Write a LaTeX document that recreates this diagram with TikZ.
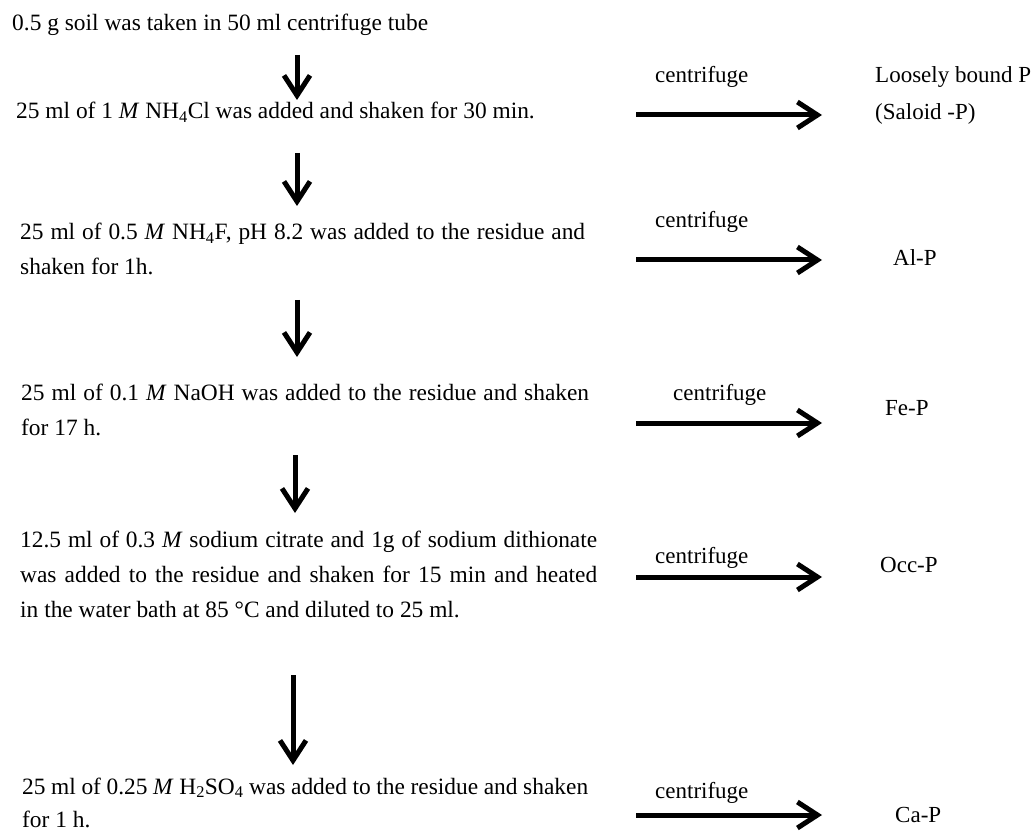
\documentclass[tikz,border=0pt]{standalone}
\usepackage{fontspec}
\setmainfont{Liberation Serif}
\usetikzlibrary{arrows.meta}

\tikzset{
  stage/.style={anchor=base west, inner sep=0pt, text width=620pt, align=flush left,
    font=\fontsize{23.4}{35}\selectfont},
  block/.style={stage, align=justify},
  spin/.style={anchor=base west, inner sep=0pt, font=\fontsize{23}{35}\selectfont},
  fraction/.style={anchor=base west, inner sep=0pt, text width=170pt, align=flush left,
    font=\fontsize{23}{37}\selectfont},
  flowdown/.style={line width=5pt, -{Straight Barb[length=20pt,width=26pt]}},
  flowout/.style={line width=5pt, -{Straight Barb[length=20pt,width=26pt]}}
}

\begin{document}
\begin{tikzpicture}[x=1pt,y=-1pt]
  \useasboundingbox (0,0) rectangle (1036,834);

  % extraction steps
  \node (soil) [stage] at (12,30.5) {0.5 g soil was taken in 50 ml centrifuge tube};
  \node (chloride) [stage] at (16,119) {25 ml of 1 \textit{M} NH\textsubscript{4}Cl was added and shaken for 30 min.};
  \node (fluoride) [block, text width=565pt] at (20,240) {25 ml of 0.5 \textit{M} NH\textsubscript{4}F, pH 8.2 was added to the residue and\linebreak shaken for 1h.};
  \node (hydroxide) [block, text width=568pt] at (21,400) {25 ml of 0.1 \textit{M} NaOH was added to the residue and shaken\linebreak for 17 h.};
  \node (citrate) [block, text width=577pt] at (20,547) {12.5 ml of 0.3 \textit{M} sodium citrate and 1g of sodium dithionate\linebreak was added to the residue and shaken for 15 min and heated\linebreak in the water bath at 85 °C and diluted to 25 ml.};
  \node (acid) [block, text width=566pt, font=\fontsize{23.4}{33}\selectfont] at (22,794) {25 ml of 0.25 \textit{M} H\textsubscript{2}SO\textsubscript{4} was added to the residue and shaken\linebreak for 1 h.};

  % P fractions
  \node (saloid) [fraction] at (875,83) {Loosely bound P\\(Saloid -P)};
  \node (alp) [fraction] at (893,266) {Al-P};
  \node (fep) [fraction] at (885,415) {Fe-P};
  \node (occp) [fraction] at (880,572) {Occ-P};
  \node (cap) [fraction] at (895,822) {Ca-P};

  \node (spin1) [spin] at (655,83) {centrifuge};
  \node (spin2) [spin] at (655,228) {centrifuge};
  \node (spin3) [spin] at (673,400) {centrifuge};
  \node (spin4) [spin] at (655,563) {centrifuge};
  \node (spin5) [spin] at (655,798) {centrifuge};

  % down arrows
  \coordinate (d1a) at (297,55);  \coordinate (d1b) at (297,100);
  \coordinate (d2a) at (297,153); \coordinate (d2b) at (297,206);
  \coordinate (d3a) at (297,300); \coordinate (d3b) at (297,357);
  \coordinate (d4a) at (295,455); \coordinate (d4b) at (295,513);
  \coordinate (d5a) at (293,675); \coordinate (d5b) at (293,765);
  \draw [flowdown] (d1a) -- (d1b);
  \draw [flowdown] (d2a) -- (d2b);
  \draw [flowdown] (d3a) -- (d3b);
  \draw [flowdown] (d4a) -- (d4b);
  \draw [flowdown] (d5a) -- (d5b);

  % centrifuge arrows
  \coordinate (h1a) at (636,115); \coordinate (h1b) at (822,115);
  \coordinate (h2a) at (636,260); \coordinate (h2b) at (822,260);
  \coordinate (h3a) at (636,423); \coordinate (h3b) at (822,423);
  \coordinate (h4a) at (636,577); \coordinate (h4b) at (822,577);
  \coordinate (h5a) at (636,815); \coordinate (h5b) at (822,815);
  \draw [flowout] (h1a) -- (h1b);
  \draw [flowout] (h2a) -- (h2b);
  \draw [flowout] (h3a) -- (h3b);
  \draw [flowout] (h4a) -- (h4b);
  \draw [flowout] (h5a) -- (h5b);
\end{tikzpicture}
\end{document}
